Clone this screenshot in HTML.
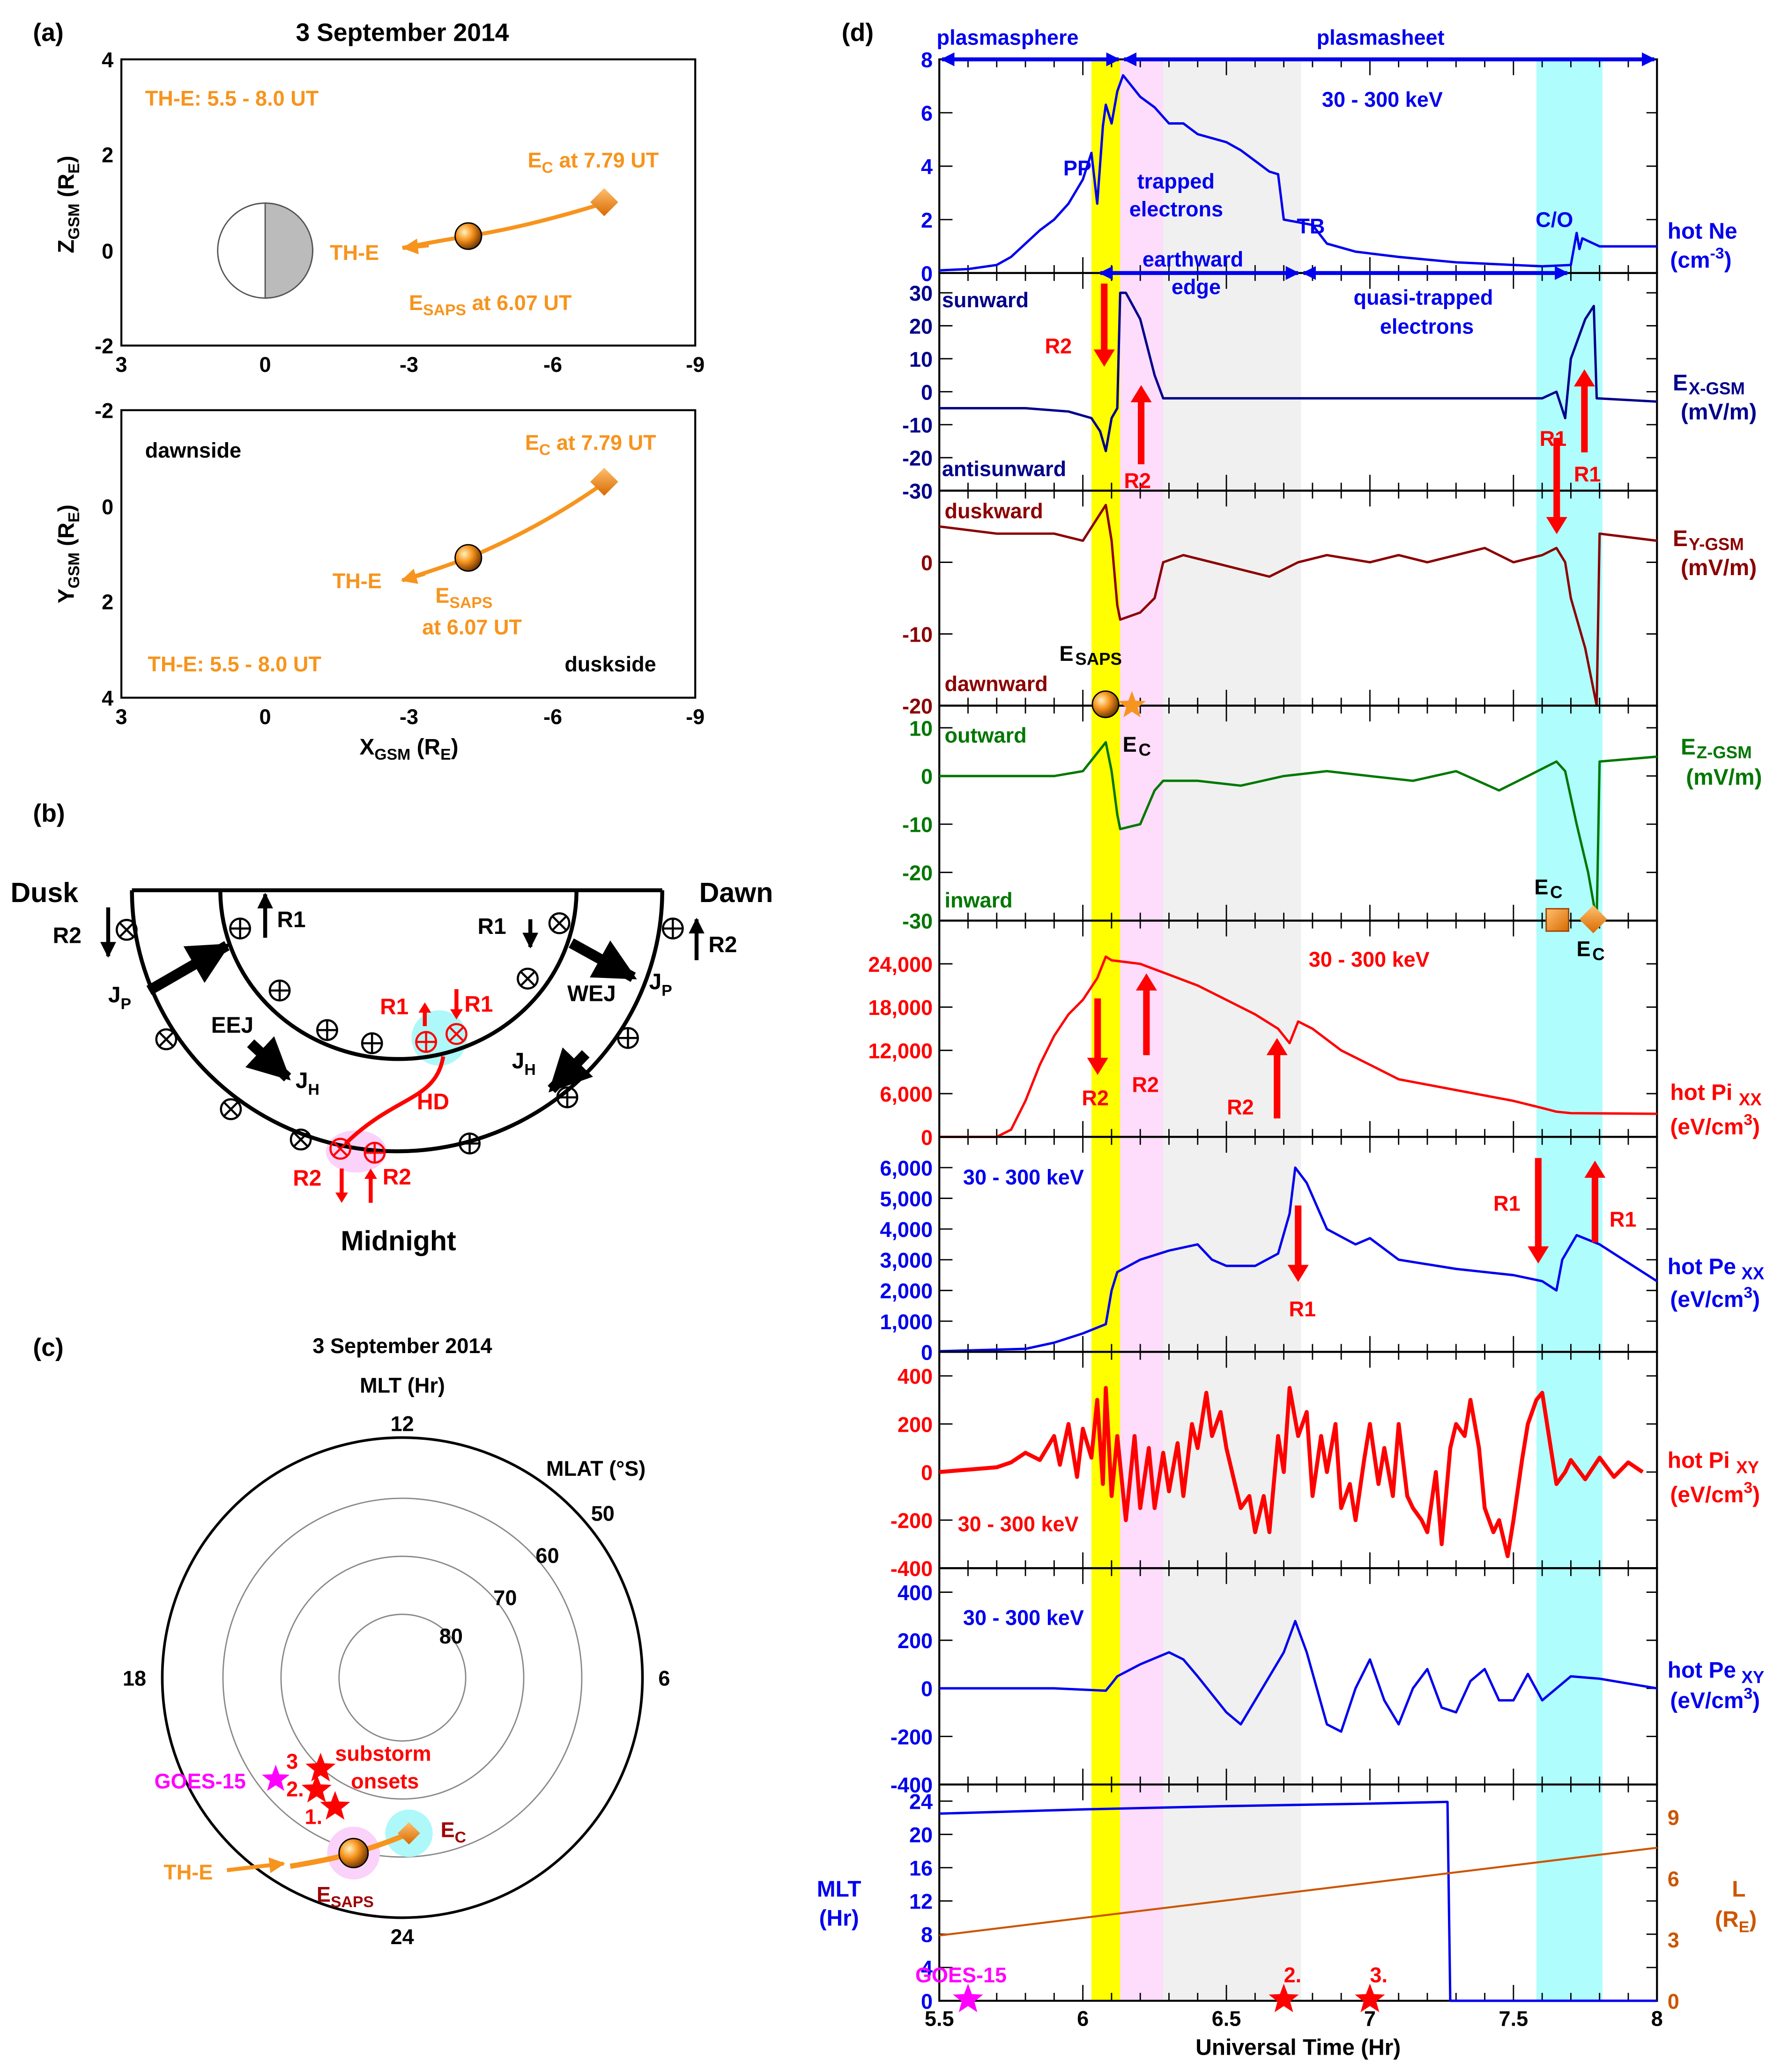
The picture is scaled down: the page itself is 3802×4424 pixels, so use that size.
<!DOCTYPE html>
<html><head><meta charset="utf-8"><style>
html,body{margin:0;padding:0;background:#fff}
svg{display:block}
text{font-family:"Liberation Sans",sans-serif;font-weight:bold}
</style></head><body>
<svg id="fig" xmlns="http://www.w3.org/2000/svg" width="3802" height="4424" viewBox="0 0 1350 1571" preserveAspectRatio="none">
<defs>
<radialGradient id="ball" cx="0.35" cy="0.35" r="0.7"><stop offset="0" stop-color="#fff2c0"/><stop offset="0.45" stop-color="#f7941d"/><stop offset="1" stop-color="#6b3000"/></radialGradient>
<linearGradient id="dia" x1="0" y1="0" x2="1" y2="1"><stop offset="0" stop-color="#ffc070"/><stop offset="1" stop-color="#d86a00"/></linearGradient>
<marker id="ab" viewBox="0 0 10 10" refX="9" refY="5" markerWidth="3.5" markerHeight="3.5" orient="auto-start-reverse"><path d="M0,0L10,5L0,10z" fill="#0000ee"/></marker>
<marker id="ak" viewBox="0 0 10 10" refX="9" refY="5" markerWidth="4" markerHeight="4" orient="auto"><path d="M0,0L10,5L0,10z" fill="#000"/></marker>
<marker id="ao" viewBox="0 0 10 10" refX="9" refY="5" markerWidth="4" markerHeight="4" orient="auto"><path d="M0,0L10,5L0,10z" fill="#f7941d"/></marker>
</defs>

<!-- ===== Panel (a) ===== -->
<g>
<text x="25" y="31" font-size="19">(a)</text>
<text x="305" y="31" font-size="19" text-anchor="middle">3 September 2014</text>
<rect x="92" y="45" width="435" height="217" fill="none" stroke="#000" stroke-width="1.5"/>
<g font-size="16" text-anchor="end">
<text x="86" y="51">4</text><text x="86" y="123">2</text><text x="86" y="196">0</text><text x="86" y="268">-2</text></g>
<g font-size="16" text-anchor="middle"><text x="92" y="282">3</text><text x="201" y="282">0</text><text x="310" y="282">-3</text><text x="419" y="282">-6</text><text x="527" y="282">-9</text></g>
<text transform="translate(56,155) rotate(-90)" font-size="17" text-anchor="middle">Z<tspan font-size="12" dy="4">GSM</tspan><tspan dy="-4"> (R</tspan><tspan font-size="12" dy="4">E</tspan><tspan dy="-4">)</tspan></text>
<circle cx="201" cy="190" r="36" fill="#fff" stroke="#555"/>
<path d="M201,154 A36,36 0 0 1 201,226 Z" fill="#bbb" stroke="#555"/>
<text x="110" y="80" fill="#f7941d" font-size="16">TH-E: 5.5 - 8.0 UT</text>
<text x="400" y="127" fill="#f7941d" font-size="16">E<tspan font-size="12" dy="4">C</tspan><tspan dy="-4"> at 7.79 UT</tspan></text>
<text x="250" y="197" fill="#f7941d" font-size="16">TH-E</text>
<text x="310" y="235" fill="#f7941d" font-size="16">E<tspan font-size="12" dy="4">SAPS</tspan><tspan dy="-4"> at 6.07 UT</tspan></text>
<path d="M305,188 Q330,183 355,179 Q400,172 458,154" fill="none" stroke="#f7941d" stroke-width="3"/>
<line x1="325" y1="186" x2="306" y2="188" stroke="#f7941d" stroke-width="3" marker-end="url(#ao)"/>
<circle cx="355" cy="179" r="10" fill="url(#ball)" stroke="#000"/>
<rect x="450" y="146" width="15" height="15" fill="url(#dia)" transform="rotate(45 458 154)"/>

<rect x="92" y="311" width="435" height="218" fill="none" stroke="#000" stroke-width="1.5"/>
<g font-size="16" text-anchor="end"><text x="86" y="317">-2</text><text x="86" y="390">0</text><text x="86" y="462">2</text><text x="86" y="535">4</text></g>
<g font-size="16" text-anchor="middle"><text x="92" y="549">3</text><text x="201" y="549">0</text><text x="310" y="549">-3</text><text x="419" y="549">-6</text><text x="527" y="549">-9</text></g>
<text transform="translate(56,420) rotate(-90)" font-size="17" text-anchor="middle">Y<tspan font-size="12" dy="4">GSM</tspan><tspan dy="-4"> (R</tspan><tspan font-size="12" dy="4">E</tspan><tspan dy="-4">)</tspan></text>
<text x="310" y="572" font-size="17" text-anchor="middle">X<tspan font-size="12" dy="4">GSM</tspan><tspan dy="-4"> (R</tspan><tspan font-size="12" dy="4">E</tspan><tspan dy="-4">)</tspan></text>
<text x="110" y="347" font-size="16">dawnside</text>
<text x="428" y="509" font-size="16">duskside</text>
<text x="398" y="341" fill="#f7941d" font-size="16">E<tspan font-size="12" dy="4">C</tspan><tspan dy="-4"> at 7.79 UT</tspan></text>
<text x="252" y="446" fill="#f7941d" font-size="16">TH-E</text>
<text x="330" y="457" fill="#f7941d" font-size="16">E<tspan font-size="12" dy="4">SAPS</tspan></text>
<text x="320" y="481" fill="#f7941d" font-size="16">at 6.07 UT</text>
<text x="112" y="509" fill="#f7941d" font-size="16">TH-E: 5.5 - 8.0 UT</text>
<path d="M305,440 Q330,432 355,423 Q410,400 458,366" fill="none" stroke="#f7941d" stroke-width="3"/>
<line x1="322" y1="435" x2="305" y2="440" stroke="#f7941d" stroke-width="3" marker-end="url(#ao)"/>
<circle cx="355" cy="423" r="10" fill="url(#ball)" stroke="#000"/>
<rect x="450" y="358" width="15" height="15" fill="url(#dia)" transform="rotate(45 458 366)"/>
</g>

<!-- ===== Panel (b) ===== -->
<g>
<text x="25" y="623" font-size="19">(b)</text>
<text x="8" y="684" font-size="21">Dusk</text>
<text x="530" y="684" font-size="21">Dawn</text>
<text x="302" y="948" font-size="21" text-anchor="middle">Midnight</text>
<circle cx="333" cy="787" r="21" fill="#aef8fa"/>
<ellipse cx="270" cy="873" rx="23" ry="16" fill="#fad2fa"/>
<path d="M100,675 L502,675 M100,675 A201,198 0 0 0 502,675 M167,675 A135,128 0 0 0 437,675" fill="none" stroke="#000" stroke-width="3"/>
<g font-size="17">
<text x="40" y="715">R2</text><text x="210" y="703">R1</text><text x="362" y="708">R1</text><text x="537" y="722">R2</text>
<text x="82" y="760">J<tspan font-size="12" dy="5">P</tspan></text><text x="492" y="750">J<tspan font-size="12" dy="5">P</tspan></text>
<text x="160" y="783">EEJ</text><text x="430" y="759">WEJ</text>
<text x="224" y="825">J<tspan font-size="12" dy="5">H</tspan></text><text x="388" y="810">J<tspan font-size="12" dy="5">H</tspan></text>
</g>
<g fill="#f00" font-size="17"><text x="288" y="769">R1</text><text x="352" y="767">R1</text><text x="316" y="841">HD</text><text x="222" y="899">R2</text><text x="290" y="898">R2</text></g>
<path d="M336,801 C330,835 300,830 262,867" fill="none" stroke="#f00" stroke-width="3"/>
<g stroke-width="8" stroke="#000">
<line x1="113" y1="751" x2="172" y2="717" marker-end="url(#ak)"/><line x1="433" y1="715" x2="480" y2="741" marker-end="url(#ak)"/>
<line x1="190" y1="791" x2="218" y2="817" marker-end="url(#ak)"/><line x1="444" y1="799" x2="418" y2="826" marker-end="url(#ak)"/>
</g>
<g stroke-width="3" stroke="#000">
<line x1="82" y1="688" x2="82" y2="725" marker-end="url(#ak)"/><line x1="201" y1="711" x2="201" y2="678" marker-end="url(#ak)"/>
<line x1="402" y1="697" x2="402" y2="718" marker-end="url(#ak)"/><line x1="528" y1="728" x2="528" y2="697" marker-end="url(#ak)"/>
</g>
<g id="bsyms"></g>
</g>

<!-- ===== Panel (c) ===== -->
<g>
<text x="25" y="1028" font-size="19">(c)</text>
<text x="305" y="1026" font-size="16" text-anchor="middle">3 September 2014</text>
<text x="305" y="1056" font-size="16" text-anchor="middle">MLT (Hr)</text>
<circle cx="305" cy="1272" r="182" fill="none" stroke="#000" stroke-width="2"/>
<circle cx="305" cy="1272" r="136" fill="none" stroke="#888"/>
<circle cx="305" cy="1272" r="92" fill="none" stroke="#888"/>
<circle cx="305" cy="1272" r="48" fill="none" stroke="#888"/>
<g font-size="16"><text x="296" y="1085">12</text><text x="296" y="1474">24</text><text x="93" y="1278">18</text><text x="499" y="1278">6</text>
<text x="414" y="1119">MLAT (°S)</text><text x="448" y="1153">50</text><text x="406" y="1185">60</text><text x="374" y="1217">70</text><text x="333" y="1246">80</text></g>
<g fill="#f00" font-size="16"><text x="254" y="1335">substorm</text><text x="266" y="1356">onsets</text><text x="217" y="1341">3</text><text x="217" y="1362">2.</text><text x="231" y="1383">1.</text></g>
<text x="117" y="1356" fill="#f0f" font-size="16">GOES-15</text>
<text x="124" y="1425" fill="#f7941d" font-size="16">TH-E</text>
<text x="334" y="1393" fill="#a00000" font-size="16">E<tspan font-size="12" dy="4">C</tspan></text>
<text x="240" y="1442" fill="#a00000" font-size="16">E<tspan font-size="12" dy="4">SAPS</tspan></text>
<circle cx="268" cy="1405" r="20" fill="#fad2fa"/><circle cx="310" cy="1390" r="18" fill="#aef8fa"/>
<path d="M220,1415 Q250,1410 268,1405 Q292,1398 310,1390" fill="none" stroke="#f7941d" stroke-width="4"/>
<line x1="172" y1="1418" x2="215" y2="1413" stroke="#f7941d" stroke-width="3" marker-end="url(#ao)"/>
<circle cx="268" cy="1405" r="11" fill="url(#ball)" stroke="#000"/>
<rect x="304" y="1384" width="12" height="12" fill="url(#dia)" transform="rotate(45 310 1390)"/>
<g id="cstars"></g>
</g>

<!-- ===== Panel (d) ===== -->
<text x="638" y="31" font-size="19">(d)</text>
<g id="pd"></g>
</svg>
<script>
// ---- data (panel d) ----
const neT=[5.5,5.6,5.7,5.75,5.8,5.85,5.9,5.95,6.0,6.03,6.05,6.07,6.08,6.1,6.12,6.14,6.2,6.25,6.3,6.35,6.4,6.5,6.55,6.6,6.65,6.68,6.7,6.75,6.8,6.85,6.95,7.1,7.3,7.5,7.6,7.7,7.72,7.73,7.74,7.8,8.0];
const neV=[0.1,0.15,0.3,0.6,1.1,1.6,2.0,2.6,3.5,4.5,2.6,5.5,6.3,5.6,6.8,7.4,6.6,6.2,5.6,5.6,5.2,4.9,4.6,4.2,3.8,3.7,2.0,1.9,1.8,1.1,0.8,0.6,0.4,0.3,0.25,0.3,1.5,0.9,1.3,1.0,1.0];
const exT=[5.5,5.8,5.95,6.03,6.06,6.08,6.1,6.12,6.13,6.15,6.2,6.25,6.28,6.4,7.0,7.6,7.65,7.68,7.7,7.75,7.78,7.79,8.0];
const exV=[-5,-5,-6,-8,-12,-18,-8,-5,30,30,22,5,-2,-2,-2,-2,0,-8,10,22,26,-2,-3];
const eyT=[5.5,5.7,5.9,6.0,6.08,6.1,6.12,6.13,6.2,6.25,6.28,6.35,6.45,6.55,6.65,6.75,6.85,7.0,7.1,7.2,7.3,7.4,7.5,7.6,7.65,7.68,7.7,7.75,7.79,7.8,8.0];
const eyV=[5,4,4,3,8,3,-6,-8,-7,-5,0,1,0,-1,-2,0,1,0,1,0,1,2,0,1,2,0,-5,-12,-20,4,3];
const ezT=[5.5,5.9,6.0,6.08,6.1,6.12,6.13,6.2,6.25,6.28,6.4,6.55,6.7,6.85,7.0,7.15,7.3,7.45,7.55,7.65,7.68,7.72,7.76,7.79,7.8,8.0];
const ezV=[0,0,1,7,1,-8,-11,-10,-3,-1,-1,-2,0,1,0,-1,1,-3,0,3,1,-10,-20,-30,3,4];
const pixxT=[5.5,5.7,5.75,5.8,5.85,5.9,5.95,6.0,6.05,6.08,6.1,6.2,6.3,6.4,6.5,6.6,6.68,6.72,6.75,6.8,6.9,7.0,7.1,7.3,7.5,7.6,7.65,7.7,8.0];
const pixxV=[0,0,1000,5000,10000,14000,17000,19000,22000,25000,24500,24000,22500,21000,19000,17000,15000,13000,16000,15000,12000,10000,8000,6500,5000,4000,3500,3300,3200];
const pexxT=[5.5,5.8,5.9,6.0,6.08,6.1,6.12,6.2,6.3,6.4,6.45,6.5,6.6,6.68,6.72,6.74,6.78,6.85,6.95,7.0,7.1,7.3,7.5,7.6,7.65,7.67,7.72,7.8,8.0];
const pexxV=[20,100,300,600,900,2000,2600,3000,3300,3500,3000,2800,2800,3200,4500,6000,5500,4000,3500,3700,3000,2700,2500,2300,2000,3000,3800,3500,2300];
const pixyT=[5.5,5.6,5.7,5.75,5.8,5.85,5.9,5.92,5.95,5.98,6.0,6.03,6.05,6.07,6.08,6.1,6.12,6.15,6.18,6.2,6.23,6.25,6.28,6.3,6.33,6.35,6.38,6.4,6.43,6.45,6.48,6.5,6.53,6.55,6.58,6.6,6.63,6.65,6.68,6.7,6.72,6.75,6.78,6.8,6.83,6.85,6.88,6.9,6.93,6.95,6.98,7.0,7.03,7.05,7.08,7.1,7.13,7.15,7.18,7.2,7.23,7.25,7.28,7.3,7.33,7.35,7.38,7.4,7.43,7.45,7.48,7.5,7.53,7.55,7.58,7.6,7.63,7.65,7.68,7.7,7.75,7.8,7.85,7.9,7.95,8.0];
const pixyV=[0,10,20,40,80,50,150,30,200,-20,180,60,300,-50,350,-100,150,-200,150,-150,100,-150,80,-80,120,-100,200,100,330,150,250,100,-50,-150,-100,-250,-100,-250,150,0,350,150,250,-100,150,0,200,-150,-50,-200,50,200,-50,100,-100,200,-100,-150,-200,-250,0,-300,100,200,150,300,100,-150,-250,-200,-350,-200,50,200,300,330,100,-50,0,50,-30,60,-20,40,0];
const pexyT=[5.5,5.9,6.08,6.1,6.12,6.2,6.3,6.35,6.4,6.5,6.55,6.6,6.7,6.74,6.78,6.85,6.9,6.95,7.0,7.05,7.1,7.15,7.2,7.25,7.3,7.35,7.4,7.45,7.5,7.55,7.6,7.7,7.8,8.0];
const pexyV=[0,0,-10,20,50,100,150,120,50,-100,-150,-50,150,280,150,-150,-180,0,120,-50,-150,0,80,-80,-100,30,80,-50,-50,60,-50,50,40,0];
const mltT=[5.5,6.0,6.5,7.0,7.27,7.28,8.0];
const mltV=[22.5,23,23.4,23.7,23.9,0,0];
const lT=[5.5,8.0];
const lV=[3.2,7.5];
const onsetT=[5.6,6.7,7.0];
const onsetLbl=["GOES-15","2.","3."];
const xTickLbl=["5.5","6","6.5","7","7.5","8"];
const xTickVal=[5.5,6,6.5,7,7.5,8];

const NS='http://www.w3.org/2000/svg';
const pd=document.getElementById('pd');
function el(tag,attrs,parent,txt){const e=document.createElementNS(NS,tag);for(const k in attrs)e.setAttribute(k,attrs[k]);if(txt!==undefined)e.textContent=txt;(parent||pd).appendChild(e);return e;}
const X0=712,X1=1256;
function xs(t){return X0+(t-5.5)/2.5*(X1-X0);}
function mk(top,bot,vmax,vmin){return v=>top+(vmax-v)/(vmax-vmin)*(bot-top);}

[[6.03,6.13,'#ffff00','yellow-band'],[6.13,6.28,'#fddcfc','pink-band'],[6.28,6.76,'#f0f0f0','grey-band'],[7.58,7.81,'#b0fdfd','cyan-band']].forEach(b=>{
 const r=el('rect',{x:xs(b[0]),y:45,width:xs(b[1])-xs(b[0]),height:1517-45,fill:b[2]});
 
 
});

const panels=[
 {n:'hot-ne',top:45,bot:207,max:8,min:0,ticks:[0,2,4,6,8],tl:['0','2','4','6','8'],T:neT,V:neV,c:'#0000ee'},
 {n:'ex-gsm',top:207,bot:372,max:36,min:-30,ticks:[-30,-20,-10,0,10,20,30],tl:['-30','-20','-10','0','10','20','30'],T:exT,V:exV,c:'#00008b'},
 {n:'ey-gsm',top:372,bot:535,max:10,min:-20,ticks:[-20,-10,0],tl:['-20','-10','0'],T:eyT,V:eyV,c:'#8b0000'},
 {n:'ez-gsm',top:535,bot:698,max:14.6,min:-30,ticks:[-30,-20,-10,0,10],tl:['-30','-20','-10','0','10'],T:ezT,V:ezV,c:'#007700'},
 {n:'hot-pixx',top:698,bot:862,max:30000,min:0,ticks:[0,6000,12000,18000,24000],tl:['0','6,000','12,000','18,000','24,000'],T:pixxT,V:pixxV,c:'#ff0000'},
 {n:'hot-pexx',top:862,bot:1025,max:7000,min:0,ticks:[0,1000,2000,3000,4000,5000,6000],tl:['0','1,000','2,000','3,000','4,000','5,000','6,000'],T:pexxT,V:pexxV,c:'#0000ee'},
 {n:'hot-pixy',top:1025,bot:1189,max:500,min:-400,ticks:[-400,-200,0,200,400],tl:['-400','-200','0','200','400'],T:pixyT,V:pixyV,c:'#ff0000'},
 {n:'hot-pexy',top:1189,bot:1353,max:500,min:-400,ticks:[-400,-200,0,200,400],tl:['-400','-200','0','200','400'],T:pexyT,V:pexyV,c:'#0000ee'},
 {n:'mlt',top:1353,bot:1517,max:26,min:0,ticks:[0,4,8,12,16,20,24],tl:['0','4','8','12','16','20','24'],T:mltT,V:mltV,c:'#0000ee'}
];
panels.forEach(p=>{
 const y=mk(p.top,p.bot,p.max,p.min);
 const g=el('g',{});
 
 
 el('rect',{x:X0,y:p.top,width:X1-X0,height:p.bot-p.top,fill:'none',stroke:'#000','stroke-width':1.5},g);
 for(let t=5.5;t<=8.001;t+=0.1){const big=Math.abs(t*2-Math.round(t*2))<0.01;el('line',{x1:xs(t),x2:xs(t),y1:p.bot,y2:p.bot-(big?12:6),stroke:'#000'},g);el('line',{x1:xs(t),x2:xs(t),y1:p.top,y2:p.top+(big?12:6),stroke:'#000'},g);}
 p.ticks.forEach((v,i)=>{el('line',{x1:X0,x2:X0+10,y1:y(v),y2:y(v),stroke:'#000'},g);el('line',{x1:X1,x2:X1-8,y1:y(v),y2:y(v),stroke:'#000'},g);
  el('text',{x:X0-5,y:y(v)+6,'text-anchor':'end','font-size':16,fill:p.c},g,p.tl[i]);});
 const d=p.T.map((t,i)=>(i?'L':'M')+xs(t).toFixed(1)+','+y(p.V[i]).toFixed(1)).join('');
 const ln=el('path',{d:d,fill:'none',stroke:p.c,'stroke-width':p.n==='hot-pixy'?3:1.8,'stroke-linejoin':'round'},g);
 
 
});
const yL=mk(1353,1517,10.6,0);
const lp=el('path',{d:lT.map((t,i)=>(i?'L':'M')+xs(t)+','+yL(lV[i])).join(''),fill:'none',stroke:'#cc5500','stroke-width':1.5});


[0,3,6,9].forEach(v=>{el('text',{x:X1+8,y:yL(v)+6,'font-size':16,fill:'#cc5500'},pd,String(v));});
xTickVal.forEach((v,i)=>{el('text',{x:xs(v),y:1536,'text-anchor':'middle','font-size':16},pd,xTickLbl[i]);});
el('text',{x:984,y:1558,'text-anchor':'middle','font-size':17},pd,'Universal Time (Hr)');

function star(cx,cy,r,fill,parent){let s='';for(let i=0;i<10;i++){const a=-Math.PI/2+i*Math.PI/5,rr=i%2?r*0.42:r;s+=(i?'L':'M')+(cx+rr*Math.cos(a)).toFixed(1)+','+(cy+rr*Math.sin(a)).toFixed(1);}return el('path',{d:s+'Z',fill:fill},parent);}
onsetT.forEach((t,i)=>{const c=i?'#ff0000':'#ff00ff';const s=star(xs(t),1516,12,c);
 
 
 el('text',{x:xs(t)+(i?0:-40),y:1503,'font-size':16,fill:c},pd,onsetLbl[i]);});
const cs=document.getElementById('cstars');
[[243,1341],[240,1357],[254,1370]].forEach(p=>star(p[0],p[1],12,'#f00',cs));
star(209,1349,11,'#f0f',cs);

const bs=document.getElementById('bsyms');
function sym(cx,cy,plus,col){el('circle',{cx:cx,cy:cy,r:7.5,fill:'none',stroke:col,'stroke-width':1.6},bs);
 if(plus){el('path',{d:`M${cx-7},${cy}H${cx+7}M${cx},${cy-7}V${cy+7}`,stroke:col,'stroke-width':1.6},bs);}else{el('path',{d:`M${cx-5},${cy-5}L${cx+5},${cy+5}M${cx+5},${cy-5}L${cx-5},${cy+5}`,stroke:col,'stroke-width':1.6},bs);}}
[[96,705,0],[182,704,1],[424,700,0],[510,704,1],[212,751,1],[400,742,0],[126,788,0],[248,781,1],[282,791,1],[476,787,1],[175,841,0],[228,864,0],[430,832,1],[356,867,1]].forEach(s=>sym(s[0],s[1],s[2],'#000'));
[[323,790,1],[346,784,0],[258,871,0],[284,874,1]].forEach(s=>sym(s[0],s[1],s[2],'#f00'));
function arr(x,y1,y2,c,w,parent){const g=parent||pd;const dir=y2>y1?1:-1;el('line',{x1:x,x2:x,y1:y1,y2:y2-dir*w*2.2,stroke:c,'stroke-width':w},g);el('path',{d:`M${x-w*1.6},${y2-dir*w*2.6}L${x+w*1.6},${y2-dir*w*2.6}L${x},${y2}Z`,fill:c},g);}
arr(322,778,760,'#f00',3,bs);arr(346,750,773,'#f00',3,bs);arr(259,886,912,'#f00',3,bs);arr(281,912,886,'#f00',3,bs);

const blue='#0000ee';
function txt(x,y,s,c,fs,anchor){return el('text',{x:x,y:y,'font-size':fs||16,fill:c,'text-anchor':anchor||'start'},pd,s);}
el('line',{x1:714,x2:848,y1:45,y2:45,stroke:blue,'stroke-width':3,'marker-end':'url(#ab)','marker-start':'url(#ab)'});
el('line',{x1:852,x2:1254,y1:45,y2:45,stroke:blue,'stroke-width':3,'marker-end':'url(#ab)','marker-start':'url(#ab)'});
el('line',{x1:834,x2:984,y1:207,y2:207,stroke:blue,'stroke-width':3,'marker-end':'url(#ab)','marker-start':'url(#ab)'});
el('line',{x1:988,x2:1188,y1:207,y2:207,stroke:blue,'stroke-width':3,'marker-end':'url(#ab)','marker-start':'url(#ab)'});
txt(710,34,'plasmasphere',blue);txt(998,34,'plasmasheet',blue);
txt(1002,81,'30 - 300 keV',blue);txt(806,133,'PP',blue);txt(862,143,'trapped',blue);txt(856,164,'electrons',blue);txt(983,177,'TB',blue);txt(1164,172,'C/O',blue);
txt(866,202,'earthward',blue);txt(888,223,'edge',blue);txt(1026,231,'quasi-trapped',blue);txt(1046,253,'electrons',blue);
const ne=txt(1264,181,'hot Ne',blue,17);
const ne2=el('text',{x:1266,y:203,'font-size':17,fill:blue},pd);ne2.innerHTML='(cm<tspan font-size="12" dy="-7">-3</tspan><tspan dy="7">)</tspan>';
txt(714,233,'sunward','#00008b');txt(714,361,'antisunward','#00008b');txt(792,268,'R2','#f00');txt(852,370,'R2','#f00');txt(1167,338,'R1','#f00');txt(1193,365,'R1','#f00');
txt(1268,296,'E','#00008b',17);txt(1280,299,'X-GSM','#00008b',13);txt(1274,318,'(mV/m)','#00008b',17);
txt(716,393,'duskward','#8b0000');txt(716,524,'dawnward','#8b0000');txt(1268,414,'E','#8b0000',17);txt(1280,417,'Y-GSM','#8b0000',13);txt(1274,436,'(mV/m)','#8b0000',17);
txt(803,501,'E','#000');txt(815,504,'SAPS','#000',13);txt(851,570,'E','#000');txt(863,573,'C','#000',13);
txt(716,563,'outward','#007700');txt(716,688,'inward','#007700');txt(1274,572,'E','#007700',17);txt(1286,575,'Z-GSM','#007700',13);txt(1278,595,'(mV/m)','#007700',17);
txt(1163,678,'E','#000');txt(1175,681,'C','#000',13);txt(1195,725,'E','#000');txt(1207,728,'C','#000',13);
txt(992,733,'30 - 300 keV','#f00');txt(820,838,'R2','#f00');txt(858,828,'R2','#f00');txt(930,845,'R2','#f00');
txt(1266,834,'hot Pi','#f00',17);txt(1318,838,'XX','#f00',13);
function unit(x,y,c){const t=el('text',{x:x,y:y,'font-size':17,fill:c},pd);t.innerHTML='(eV/cm<tspan font-size="12" dy="-7">3</tspan><tspan dy="7">)</tspan>';}
unit(1266,860,'#f00');
txt(730,898,'30 - 300 keV',blue);txt(977,998,'R1','#f00');txt(1132,918,'R1','#f00');txt(1220,930,'R1','#f00');
txt(1264,966,'hot Pe',blue,17);txt(1320,970,'XX',blue,13);unit(1266,991,blue);
txt(726,1161,'30 - 300 keV','#f00');txt(1264,1113,'hot Pi','#f00',17);txt(1316,1117,'XY','#f00',13);unit(1266,1139,'#f00');
txt(730,1232,'30 - 300 keV',blue);txt(1264,1272,'hot Pe',blue,17);txt(1320,1276,'XY',blue,13);unit(1266,1295,blue);
txt(636,1438,'MLT',blue,17,'middle');txt(636,1460,'(Hr)',blue,17,'middle');
txt(1318,1438,'L','#cc5500',17,'middle');
const lr=el('text',{x:1300,y:1461,'font-size':17,fill:'#cc5500'},pd);lr.innerHTML='(R<tspan font-size="12" dy="4">E</tspan><tspan dy="-4">)</tspan>';
arr(837,215,278,'#f00',5);arr(865,352,292,'#f00',5);arr(1201,343,280,'#f00',5);arr(1180,332,405,'#f00',5);
arr(832,757,815,'#f00',5);arr(869,800,738,'#f00',5);arr(968,848,787,'#f00',5);
arr(984,914,972,'#f00',5);arr(1166,878,958,'#f00',5);arr(1209,942,880,'#f00',5);
const b1=el('circle',{cx:838,cy:534,r:10,fill:'url(#ball)',stroke:'#000'});


star(858,535,11,'#f7941d');
el('rect',{x:1172,y:689,width:17,height:17,fill:'url(#dia)',stroke:'#a04000'});
el('rect',{x:1200,y:689,width:15,height:15,fill:'url(#dia)',transform:'rotate(45 1207 697)'});
</script>
</body></html>
